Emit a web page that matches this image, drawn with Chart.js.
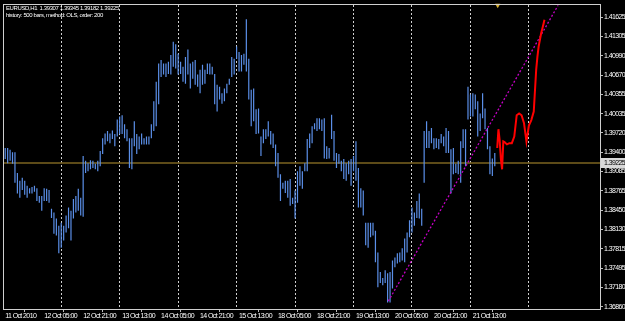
<!DOCTYPE html>
<html>
<head>
<meta charset="utf-8">
<script src="https://cdn.jsdelivr.net/npm/chart.js@4/dist/chart.umd.min.js"></script>
<style>
  html, body { margin: 0; padding: 0; background: #000; }
  #c { display: block; }
</style>
</head>
<body>
<canvas id="c" width="625" height="321"></canvas>
<script>
// ---- data ----
const headerText = 'EURUSD,H1  1.39307 1.39345 1.39182 1.39225';
const infoText = 'history: 500 bars, method: OLS, order: 200';

const xLabelIdx = [0, 16, 32, 48, 64, 80, 96, 112, 128, 144, 160, 176, 192];
const xLabels = ['11 Oct 2010', '12 Oct 05:00', '12 Oct 21:00', '13 Oct 13:00', '14 Oct 05:00',
  '14 Oct 21:00', '15 Oct 13:00', '18 Oct 05:00', '18 Oct 21:00', '19 Oct 13:00',
  '20 Oct 05:00', '20 Oct 21:00', '21 Oct 13:00'];
const dayIdx = [11, 35, 59, 83, 107, 131, 155, 179, 203];
const yTicks = [1.41625, 1.41305, 1.40990, 1.40670, 1.40355, 1.40035, 1.39720, 1.39400,
  1.39085, 1.38765, 1.38450, 1.38130, 1.37815, 1.37495, 1.37180, 1.36860];

const highs = [
  1.3947,1.3947,1.3944,1.3940,1.3940,1.3906,1.3893,1.3898,1.3893,1.3885,
  1.3881,1.3883,1.3885,1.3881,1.3868,1.3868,1.3881,1.3880,1.3878,1.3847,
  1.3841,1.3831,1.3819,1.3824,1.3819,1.3836,1.3849,1.3844,1.3863,1.3868,
  1.3880,1.3865,1.3934,1.3926,1.3922,1.3927,1.3926,1.3921,1.3926,1.3942,
  1.3963,1.3971,1.3975,1.3971,1.3976,1.3970,1.3994,1.3999,1.4001,1.3986,
  1.3978,1.3963,1.3963,1.3991,1.3970,1.3966,1.3971,1.3963,1.3966,1.3966,
  1.3986,1.4024,1.4056,1.4086,1.4092,1.4086,1.4086,1.4089,1.4100,1.4122,
  1.4118,1.4102,1.4089,1.4081,1.4097,1.4109,1.4086,1.4089,1.4092,1.4068,
  1.4076,1.4084,1.4076,1.4086,1.4086,1.4081,1.4069,1.4051,1.4048,1.4037,
  1.4045,1.4053,1.4061,1.4097,1.4094,1.4114,1.4105,1.4100,1.4102,1.4159,
  1.4094,1.4043,1.4045,1.4011,1.4012,1.3966,1.3978,1.3978,1.3991,1.3975,
  1.3971,1.3953,1.3939,1.3904,1.3890,1.3893,1.3893,1.3896,1.3865,1.3877,
  1.3909,1.3917,1.3909,1.3922,1.3962,1.3971,1.3983,1.3988,1.3996,1.3996,
  1.3994,1.3996,1.3950,1.3947,1.4002,1.3975,1.3939,1.3937,1.3926,1.3929,
  1.3922,1.3926,1.3929,1.3934,1.3958,1.3914,1.3881,1.3877,1.3824,1.3824,
  1.3824,1.3824,1.3811,1.3775,1.3743,1.3733,1.3746,1.3741,1.3743,1.3762,
  1.3767,1.3774,1.3775,1.3782,1.3798,1.3808,1.3828,1.3849,1.3841,1.3860,
  1.3872,1.3847,1.3975,1.3991,1.3975,1.3980,1.3963,1.3963,1.3962,1.3970,
  1.3966,1.3980,1.3975,1.3945,1.3947,1.3921,1.3926,1.3958,1.3978,1.3978,
  1.4048,1.4035,1.4037,1.4035,1.4024,1.4004,1.4037,1.4012,1.3980,1.3950,
  1.3930,1.3939
];
const lows = [
  1.3929,1.3922,1.3926,1.3921,1.3890,1.3872,1.3865,1.3878,1.3870,1.3865,
  1.3872,1.3872,1.3875,1.3860,1.3857,1.3844,1.3860,1.3860,1.3857,1.3832,
  1.3806,1.3803,1.3774,1.3783,1.3795,1.3808,1.3815,1.3795,1.3831,1.3841,
  1.3844,1.3836,1.3834,1.3906,1.3909,1.3912,1.3914,1.3912,1.3909,1.3917,
  1.3937,1.3953,1.3958,1.3955,1.3962,1.3950,1.3966,1.3970,1.3970,1.3963,
  1.3958,1.3914,1.3912,1.3950,1.3937,1.3945,1.3953,1.3953,1.3953,1.3953,
  1.3963,1.3975,1.3983,1.4019,1.4064,1.4068,1.4064,1.4069,1.4068,1.4081,
  1.4078,1.4068,1.4069,1.4056,1.4053,1.4068,1.4045,1.4061,1.4051,1.4048,
  1.4037,1.4051,1.4053,1.4069,1.4068,1.4068,1.4019,1.4007,1.4027,1.4020,
  1.4024,1.4037,1.4051,1.4064,1.4068,1.4094,1.4073,1.4073,1.4084,1.4073,
  1.4027,1.3983,1.3991,1.3970,1.3971,1.3934,1.3955,1.3962,1.3966,1.3953,
  1.3947,1.3917,1.3898,1.3860,1.3880,1.3873,1.3865,1.3852,1.3855,1.3831,
  1.3857,1.3885,1.3880,1.3909,1.3909,1.3947,1.3955,1.3978,1.3975,1.3978,
  1.3975,1.3930,1.3929,1.3930,1.3962,1.3926,1.3914,1.3921,1.3909,1.3896,
  1.3893,1.3904,1.3885,1.3909,1.3893,1.3849,1.3849,1.3836,1.3787,1.3783,
  1.3800,1.3803,1.3759,1.3718,1.3725,1.3721,1.3725,1.3693,1.3693,1.3716,
  1.3751,1.3757,1.3759,1.3762,1.3759,1.3775,1.3800,1.3808,1.3819,1.3832,
  1.3831,1.3819,1.3890,1.3947,1.3947,1.3955,1.3945,1.3947,1.3945,1.3955,
  1.3950,1.3939,1.3939,1.3872,1.3904,1.3906,1.3904,1.3890,1.3947,1.3917,
  1.3994,1.3999,1.3999,1.4011,1.3966,1.3975,1.3996,1.3978,1.3945,1.3904,
  1.3901,1.3917
];

const bidPrice = 1.39225;
const trendIdx = [157.3, 227];
const trendVal = [1.3695, 1.4182];
const fcIdx = [202, 202.5, 203, 203.5, 204, 204.5, 205, 206, 207, 208, 209, 210, 211, 212,
  213, 214, 215, 216, 217, 218, 218.5, 219, 220, 221, 221.4];
const fcVal = [1.3947, 1.3978, 1.3960, 1.3929, 1.3912, 1.3958, 1.3957, 1.3953, 1.3955, 1.3955,
  1.3966, 1.4001, 1.4004, 1.4001, 1.3988, 1.3958, 1.3984, 1.3993, 1.4007, 1.4076, 1.4097,
  1.4114, 1.4135, 1.4151, 1.4158];
const shiftMarkIdx = 202.2;

const xMin = -0.5, xMax = 244.2;
const yMin = 1.36821, yMax = 1.41821;

// ---- chart ----
const FONT = "'Liberation Sans', Arial, sans-serif";

const tightText = {
  id: 'tightText',
  beforeDraw(chart) {
    chart.ctx.letterSpacing = '-0.6px';
  }
};

const overlay = {
  id: 'overlay',
  afterDraw(chart) {
    const ctx = chart.ctx;
    const a = chart.chartArea;
    const ys = chart.scales.y;
    ctx.save();
    // frame
    ctx.strokeStyle = '#cfcfcf';
    ctx.lineWidth = 1;
    ctx.strokeRect(Math.round(a.left) - 0.5, Math.round(a.top) - 0.5,
      Math.round(a.right - a.left) + 1, Math.round(a.bottom - a.top) + 1);
    // header text
    ctx.fillStyle = '#ffffff';
    ctx.font = '6px ' + FONT;
    ctx.letterSpacing = '-0.4px';
    ctx.textBaseline = 'alphabetic';
    ctx.textAlign = 'left';
    ctx.fillText(headerText, 6, 10);
    ctx.fillText(infoText, 6, 17);
    // current price label
    const py = Math.round(ys.getPixelForValue(bidPrice));
    ctx.fillStyle = '#d8d8d8';
    ctx.fillRect(a.right + 1, py - 5, 625 - a.right - 1, 10);
    ctx.fillStyle = '#000000';
    ctx.font = '7px ' + FONT;
    ctx.letterSpacing = '-0.6px';
    ctx.textBaseline = 'middle';
    ctx.fillText(bidPrice.toFixed(5), a.right + 4, py + 0.5);
    ctx.restore();
  }
};

new Chart(document.getElementById('c'), {
  type: 'bar',
  data: {
    datasets: [
      {
        type: 'line', label: 'Bid', order: 5,
        data: [{ x: xMin, y: bidPrice }, { x: xMax, y: bidPrice }],
        borderColor: '#7d6420', borderWidth: 1.5, pointRadius: 0
      },
      {
        type: 'bar', label: 'EURUSD,H1', order: 4,
        data: highs.map((h, i) => ({ x: i, y: [lows[i], h] })),
        backgroundColor: '#5b8fe8', barThickness: 1.2, borderWidth: 0,
        inflateAmount: 0, grouped: false
      },
      {
        type: 'line', label: 'OLS trend', order: 3,
        data: trendIdx.map((x, i) => ({ x, y: trendVal[i] })),
        borderColor: '#c400c4', borderWidth: 1.3, borderDash: [2, 2], pointRadius: 0
      },
      {
        type: 'line', label: 'Forecast', order: 2,
        data: fcIdx.map((x, i) => ({ x, y: fcVal[i] })),
        borderColor: '#ff0000', borderWidth: 2, pointRadius: 0, tension: 0
      },
      {
        type: 'scatter', label: 'shift', order: 1, clip: false,
        data: [{ x: shiftMarkIdx, y: yMax }],
        pointStyle: 'triangle', rotation: 180, pointRadius: 3,
        backgroundColor: '#d9b030', borderColor: '#d9b030', borderWidth: 0
      }
    ]
  },
  options: {
    responsive: false,
    animation: false,
    events: [],
    layout: { padding: { left: 3, top: 3, right: 0, bottom: 0 } },
    plugins: { legend: { display: false }, tooltip: { enabled: false }, title: { display: false } },
    scales: {
      x: {
        type: 'linear', position: 'bottom', min: xMin, max: xMax, offset: false,
        grid: { drawOnChartArea: false, drawTicks: true, tickLength: 3, tickColor: '#bdbdbd' },
        border: { display: false },
        ticks: {
          color: '#ffffff', font: { size: 7, family: FONT }, padding: 0,
          autoSkip: false, maxRotation: 0, minRotation: 0, align: 'start',
          callback: (v) => { const k = xLabelIdx.indexOf(v); return k >= 0 ? xLabels[k] : ''; }
        },
        afterBuildTicks: (s) => { s.ticks = xLabelIdx.map(v => ({ value: v })); },
        afterFit: (s) => { s.height = 12; }
      },
      xDay: {
        type: 'linear', position: 'top', min: xMin, max: xMax, offset: false,
        grid: { drawOnChartArea: true, drawTicks: false, color: '#cfcfcf', lineWidth: 1 },
        border: { display: false, dash: [2, 2] },
        ticks: { display: false },
        afterBuildTicks: (s) => { s.ticks = dayIdx.map(v => ({ value: v })); },
        afterFit: (s) => { s.height = 0; }
      },
      y: {
        type: 'linear', position: 'right', min: yMin, max: yMax,
        grid: { drawOnChartArea: false, drawTicks: true, tickLength: 3, tickColor: '#bdbdbd' },
        border: { display: false },
        ticks: {
          color: '#ffffff', font: { size: 7, family: FONT }, padding: 1,
          callback: (v) => Number(v).toFixed(5)
        },
        afterBuildTicks: (s) => { s.ticks = yTicks.map(v => ({ value: v })); },
        afterFit: (s) => { s.width = 25; }
      }
    }
  },
  plugins: [tightText, overlay]
});
</script>
</body>
</html>
